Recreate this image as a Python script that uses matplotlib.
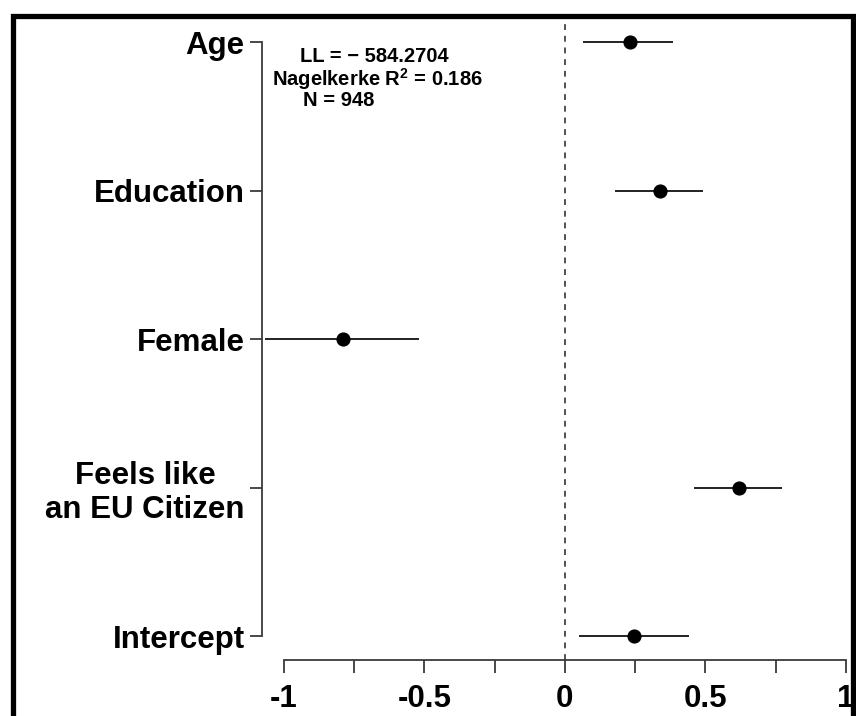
import matplotlib
matplotlib.use("Agg")
import matplotlib.pyplot as plt
from matplotlib.patches import Rectangle

# ---- data ----
categories = ["Age", "Education", "Female", "Feels like\nan EU Citizen", "Intercept"]
estimates = [0.231, 0.338, -0.791, 0.620, 0.246]
ci_low = [0.066, 0.180, -1.068, 0.459, 0.051]
ci_high = [0.384, 0.492, -0.520, 0.771, 0.442]
x_ticks = [-1, -0.75, -0.5, -0.25, 0, 0.25, 0.5, 0.75, 1]
x_tick_labels = ["-1", "", "-0.5", "", "0", "", "0.5", "", "1"]
stats_lines = ["LL = \u2212 584.2704", "Nagelkerke R$^2$ = 0.186", "N = 948"]

W, H = 856, 716
DPI = 100
plt.rcParams['font.family'] = ['Liberation Sans', 'DejaVu Sans']
plt.rcParams['mathtext.fontset'] = 'custom'
plt.rcParams['mathtext.rm'] = 'Liberation Sans:bold'
fig = plt.figure(figsize=(W / DPI, H / DPI), dpi=DPI)

def fx(px):
    return px / W

def fy(py):
    return 1 - py / H

ax = fig.add_axes([fx(262), fy(660), fx(856) - fx(262), fy(18.3) - fy(660)])
n = len(categories)
ypos = list(range(n - 1, -1, -1))
ax.set_ylim(-0.16, n - 1 + 0.16)
ax.set_xlim(-1.078, 1.036)

axis_col = "#3a3a3a"
for y, e, lo, hi in zip(ypos, estimates, ci_low, ci_high):
    ax.plot([lo, hi], [y, y], color="#222222", lw=1.4, solid_capstyle="butt", zorder=2)
    ax.plot([e], [y], marker="o", ms=9.2, color="black", zorder=3)

ax.axvline(0, color="#333333", lw=1.2, ls=(0, (3.5, 3.5)), zorder=1)

for s in ["top", "right"]:
    ax.spines[s].set_visible(False)
ax.spines["left"].set_bounds(0, n - 1)
ax.spines["bottom"].set_bounds(-1, 1)
for s in ["left", "bottom"]:
    ax.spines[s].set_color(axis_col)
    ax.spines[s].set_linewidth(1.3)

ax.set_yticks(ypos)
ax.set_yticklabels(categories, fontsize=22.5, fontweight="bold", multialignment="center",
                   linespacing=1.15)
ax.set_xticks(x_ticks)
ax.set_xticklabels(x_tick_labels, fontsize=22.5, fontweight="bold")
ax.tick_params(axis="y", length=9, width=1.3, color=axis_col, pad=3.5)
ax.tick_params(axis="x", length=9, width=1.3, color=axis_col, pad=8)

# stats annotation
fig.text(fx(300), fy(57), stats_lines[0], fontsize=14.5, fontweight="bold", va="center", ha="left")
fig.text(fx(272), fy(79), stats_lines[1], fontsize=14.5, fontweight="bold", va="center", ha="left")
fig.text(fx(303), fy(101), stats_lines[2], fontsize=14.5, fontweight="bold", va="center", ha="left")

# outer border
fig.patches.append(Rectangle((fx(12.5), fy(760)), fx(852.5) - fx(12.5), fy(15.5) - fy(760),
                             transform=fig.transFigure, fill=False, lw=3.8, edgecolor="black",
                             clip_on=False))

fig.savefig("out.png", dpi=DPI)
